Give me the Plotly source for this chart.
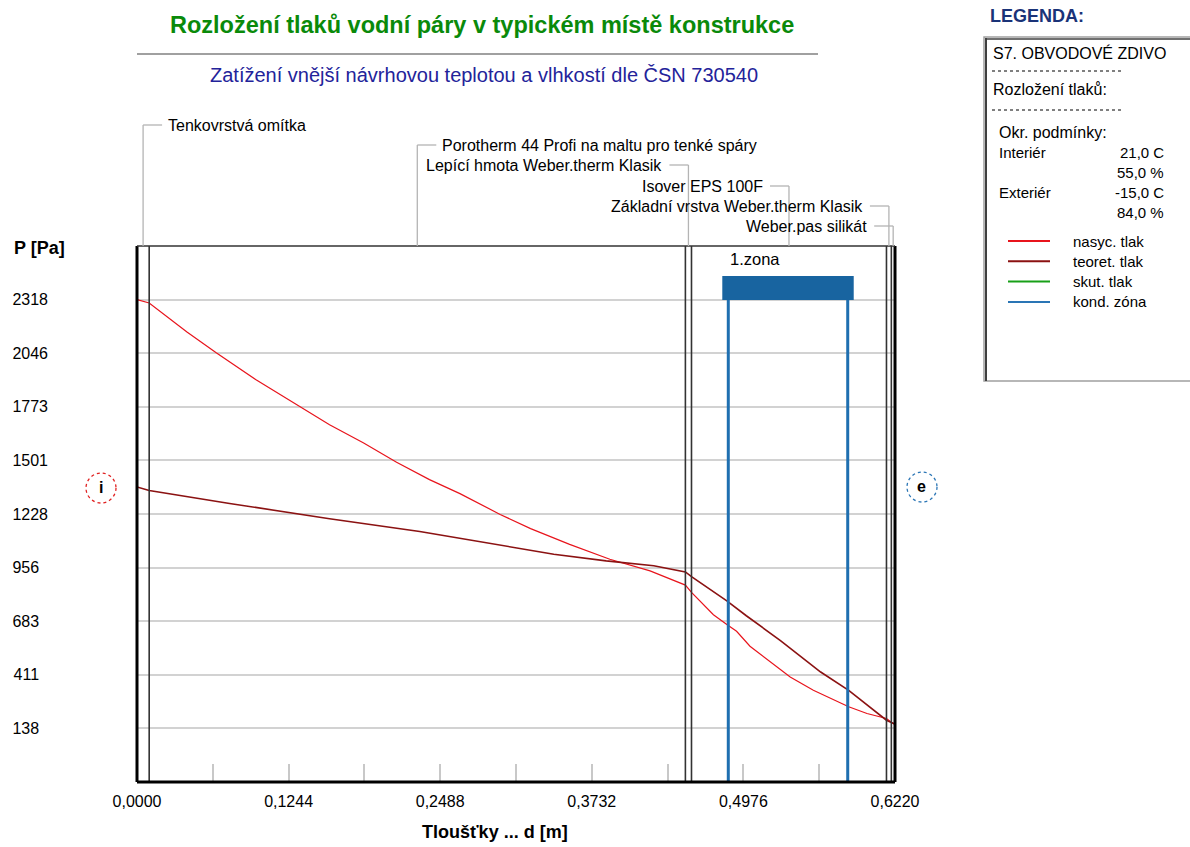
import plotly.graph_objects as go

# ---------------- data ----------------
layer_names = [
    "Tenkovrstvá omítka",
    "Porotherm 44 Profi na maltu pro tenké spáry",
    "Lepící hmota Weber.therm Klasik",
    "Isover EPS 100F",
    "Základní vrstva Weber.therm Klasik",
    "Weber.pas silikát",
]
layer_thickness = [0.010, 0.440, 0.005, 0.160, 0.004, 0.003]

x_tick_vals = [0.0, 0.1244, 0.2488, 0.3732, 0.4976, 0.6220]
x_tick_text = ["0,0000", "0,1244", "0,2488", "0,3732", "0,4976", "0,6220"]
x_minor_vals = [0.0622, 0.1866, 0.3110, 0.4354, 0.5598]
y_tick_vals = [138, 411, 683, 956, 1228, 1501, 1773, 2046, 2318]
y_range = [-134.2, 2590.8]

# saturated vapour pressure (nasyc. tlak)
nasyc_d = [0.000, 0.010, 0.041, 0.065, 0.098, 0.131, 0.158, 0.186, 0.213, 0.240,
           0.265, 0.298, 0.323, 0.355, 0.388, 0.421, 0.450, 0.455, 0.473, 0.484,
           0.492, 0.503, 0.520, 0.536, 0.555, 0.584, 0.599, 0.615, 0.619, 0.622]
nasyc_p = [2318, 2301, 2154, 2048, 1909, 1783, 1682, 1589, 1491, 1403,
           1332, 1226, 1154, 1074, 998, 939, 867, 830, 716, 666,
           632, 556, 476, 400, 332, 248, 214, 189, 170, 158]

# theoretical partial pressure (teoret. tlak)
teoret_d = [0.000, 0.010, 0.076, 0.158, 0.232, 0.287, 0.342, 0.385, 0.424, 0.450,
            0.455, 0.484, 0.500, 0.528, 0.561, 0.584, 0.615, 0.619, 0.622]
teoret_p = [1366, 1348, 1282, 1204, 1139, 1083, 1024, 990, 965, 934,
            910, 787, 711, 585, 425, 332, 180, 168, 160]

zona_start = 0.4852
zona_end = 0.5832
zona_label = "1.zona"

legend_header = "LEGENDA:"
legend_lines = ["S7. OBVODOVÉ ZDIVO", "Rozložení tlaků:"]
okr_rows = [("Interiér", "21,0 C"), ("", "55,0 %"), ("Exteriér", "-15,0 C"), ("", "84,0 %")]
legend_names = ["nasyc. tlak", "teoret. tlak", "skut. tlak", "kond. zóna"]
legend_colors = ["#e8141c", "#8b1212", "#18a018", "#2a75b5"]

title_text = "Rozložení tlaků vodní páry v typickém místě konstrukce"
subtitle_text = "Zatížení vnější návrhovou teplotou a vlhkostí dle ČSN 730540"

# ---------------- layout helpers ----------------
W_FIG, H_FIG = 1190, 847
L, R, T, B = 137, 895, 246, 782
PW, PH = R - L, B - T
XMAX = 0.622


def px(x):
    return (x - L) / PW


def py(y):
    return (B - y) / PH


def dx(pixels):
    return pixels * XMAX / PW


FONT = "Liberation Sans, Arial, sans-serif"

fig = go.Figure()

fig.add_trace(go.Scatter(x=nasyc_d, y=nasyc_p, mode="lines",
                         line=dict(color=legend_colors[0], width=1.2),
                         showlegend=False, name=legend_names[0]))
fig.add_trace(go.Scatter(x=teoret_d, y=teoret_p, mode="lines",
                         line=dict(color=legend_colors[1], width=1.6),
                         showlegend=False, name=legend_names[1]))

shapes = []
annotations = []

# layer boundaries
bounds = [0.0]
for t in layer_thickness:
    bounds.append(bounds[-1] + t)
for b in bounds[1:-1]:
    shapes.append(dict(type="line", xref="x", yref="paper", x0=b, x1=b, y0=0, y1=1,
                       line=dict(color="#333333", width=1.6), layer="above"))

# condensation zone
shapes.append(dict(type="rect", xref="x", yref="paper",
                   x0=zona_start - dx(6), x1=zona_end + dx(6), y0=py(300), y1=py(276),
                   fillcolor="#1864a0", line=dict(width=0), layer="above"))
for zx in (zona_start, zona_end):
    shapes.append(dict(type="line", xref="x", yref="paper", x0=zx, x1=zx, y0=0, y1=py(300),
                       line=dict(color="#1f6fb0", width=3), layer="above"))
annotations.append(dict(xref="x", yref="paper", x=zona_start, y=py(259), text=zona_label,
                        showarrow=False, xanchor="left", yanchor="middle",
                        font=dict(family=FONT, size=16.5, color="#000000")))

# frame
shapes += [
    dict(type="line", xref="paper", yref="paper", x0=0, x1=0, y0=0, y1=1,
         line=dict(color="#000000", width=3), layer="above"),
    dict(type="line", xref="paper", yref="paper", x0=1, x1=1, y0=0, y1=1,
         line=dict(color="#000000", width=3), layer="above"),
    dict(type="line", xref="paper", yref="paper", x0=0, x1=1, y0=0, y1=0,
         line=dict(color="#000000", width=3), layer="above"),
    dict(type="line", xref="paper", yref="paper", x0=0, x1=1, y0=1, y1=1,
         line=dict(color="#333333", width=1.6), layer="above"),
]

# layer labels with leader lines
label_y = [125, 145, 165, 186, 206, 226]
label_side = ["right", "right", "left", "left", "left", "left"]
for i, name in enumerate(layer_names):
    c = (bounds[i] + bounds[i + 1]) / 2
    yy = py(label_y[i])
    shapes.append(dict(type="line", xref="x", yref="paper", x0=c, x1=c, y0=yy, y1=1,
                       line=dict(color="#b4b4b4", width=1.3)))
    if label_side[i] == "right":
        shapes.append(dict(type="line", xref="x", yref="paper", x0=c, x1=c + dx(19), y0=yy, y1=yy,
                           line=dict(color="#b4b4b4", width=1.3)))
        annotations.append(dict(xref="x", yref="paper", x=c + dx(23), y=yy, text=name,
                                showarrow=False, xanchor="left", yanchor="middle",
                                font=dict(family=FONT, size=16, color="#000000")))
    else:
        shapes.append(dict(type="line", xref="x", yref="paper", x0=c - dx(19), x1=c, y0=yy, y1=yy,
                           line=dict(color="#b4b4b4", width=1.3)))
        annotations.append(dict(xref="x", yref="paper", x=c - dx(24), y=yy, text=name,
                                showarrow=False, xanchor="right", yanchor="middle",
                                font=dict(family=FONT, size=16, color="#000000")))

# interior / exterior markers
for cx, cy, col, txt in ((101, 488, "#e02020", "i"), (922, 487, "#2a75b5", "e")):
    shapes.append(dict(type="circle", xref="paper", yref="paper",
                       x0=px(cx - 15), x1=px(cx + 15), y0=py(cy + 15), y1=py(cy - 15),
                       line=dict(color=col, width=1.3, dash="dot")))
    annotations.append(dict(xref="paper", yref="paper", x=px(cx), y=py(cy - 1), text="<b>%s</b>" % txt,
                            showarrow=False, xanchor="center", yanchor="middle",
                            font=dict(family=FONT, size=16, color="#000000")))

# titles
annotations.append(dict(xref="paper", yref="paper", x=px(482), y=py(25), text="<b>%s</b>" % title_text,
                        showarrow=False, xanchor="center", yanchor="middle",
                        font=dict(family=FONT, size=23.5, color="#0a8a0a")))
shapes.append(dict(type="line", xref="paper", yref="paper", x0=px(137), x1=px(818),
                   y0=py(54), y1=py(54), line=dict(color="#a0a0a0", width=2)))
annotations.append(dict(xref="paper", yref="paper", x=px(484), y=py(75), text=subtitle_text,
                        showarrow=False, xanchor="center", yanchor="middle",
                        font=dict(family=FONT, size=20, color="#23239a")))
annotations.append(dict(xref="paper", yref="paper", x=px(12), y=py(248), text="<b>P [Pa]</b>",
                        showarrow=False, xanchor="left", yanchor="middle",
                        font=dict(family=FONT, size=18, color="#000000")))
annotations.append(dict(xref="paper", yref="paper", x=px(495), y=py(832), text="<b>Tloušťky ... d [m]</b>",
                        showarrow=False, xanchor="center", yanchor="middle",
                        font=dict(family=FONT, size=18, color="#000000")))

# legend panel
annotations.append(dict(xref="paper", yref="paper", x=px(988), y=py(16), text="<b>%s</b>" % legend_header,
                        showarrow=False, xanchor="left", yanchor="middle",
                        font=dict(family=FONT, size=18, color="#1a3378")))
shapes.append(dict(type="rect", xref="paper", yref="paper", x0=px(984), x1=px(1200),
                   y0=py(381), y1=py(37), line=dict(color="#a0a0a0", width=1.5)))
shapes.append(dict(type="line", xref="paper", yref="paper", x0=px(986), x1=px(986),
                   y0=py(381), y1=py(38), line=dict(color="#404040", width=2)))
shapes.append(dict(type="line", xref="paper", yref="paper", x0=px(986), x1=px(1200),
                   y0=py(39), y1=py(39), line=dict(color="#404040", width=1.5)))

big = dict(family=FONT, size=16, color="#000000")
small = dict(family=FONT, size=15, color="#000000")
annotations.append(dict(xref="paper", yref="paper", x=px(991), y=py(53), text=legend_lines[0],
                        showarrow=False, xanchor="left", yanchor="middle", font=big))
annotations.append(dict(xref="paper", yref="paper", x=px(991), y=py(90), text=legend_lines[1],
                        showarrow=False, xanchor="left", yanchor="middle", font=big))
for yy in (71, 110):
    shapes.append(dict(type="line", xref="paper", yref="paper", x0=px(992), x1=px(1122),
                       y0=py(yy), y1=py(yy), line=dict(color="#000000", width=1, dash="dot")))
annotations.append(dict(xref="paper", yref="paper", x=px(997), y=py(132), text="Okr. podmínky:",
                        showarrow=False, xanchor="left", yanchor="middle", font=big))
for k, (lab, val) in enumerate(okr_rows):
    yy = py(152 + k * 20)
    if lab:
        annotations.append(dict(xref="paper", yref="paper", x=px(997), y=yy, text=lab,
                                showarrow=False, xanchor="left", yanchor="middle", font=small))
    annotations.append(dict(xref="paper", yref="paper", x=px(1166), y=yy, text=val,
                            showarrow=False, xanchor="right", yanchor="middle", font=small))
for k, (nm, col) in enumerate(zip(legend_names, legend_colors)):
    yy = py(241 + k * 20.3)
    shapes.append(dict(type="line", xref="paper", yref="paper", x0=px(1008), x1=px(1050),
                       y0=yy, y1=yy, line=dict(color=col, width=2)))
    annotations.append(dict(xref="paper", yref="paper", x=px(1071), y=yy, text=nm,
                            showarrow=False, xanchor="left", yanchor="middle", font=small))

fig.update_layout(
    width=W_FIG, height=H_FIG,
    margin=dict(l=L, r=W_FIG - R, t=T, b=H_FIG - B, pad=0),
    paper_bgcolor="white", plot_bgcolor="white",
    showlegend=False,
    shapes=shapes, annotations=annotations,
    font=dict(family=FONT, color="#000000"),
    xaxis=dict(range=[0, XMAX], tickvals=x_tick_vals, ticktext=x_tick_text,
               ticks="inside", ticklen=18, tickwidth=1.5, tickcolor="#c8c8c8",
               minor=dict(tickvals=x_minor_vals, ticks="inside", ticklen=18,
                          tickwidth=1.5, tickcolor="#c8c8c8", showgrid=False),
               showgrid=False, zeroline=False, showline=False,
               tickfont=dict(family=FONT, size=16, color="#000000"),
               ticklabelstandoff=8, fixedrange=True),
    yaxis=dict(range=y_range, tickvals=y_tick_vals,
               ticktext=[("%d" % v) + ("\u2007" if v < 1000 else "") for v in y_tick_vals],
               ticks="", showgrid=True, gridcolor="#d2d2d2", gridwidth=1.8,
               zeroline=False, showline=False,
               tickfont=dict(family=FONT, size=16, color="#000000"),
               ticklabelstandoff=88, fixedrange=True),
)

fig.write_html("out.html")
